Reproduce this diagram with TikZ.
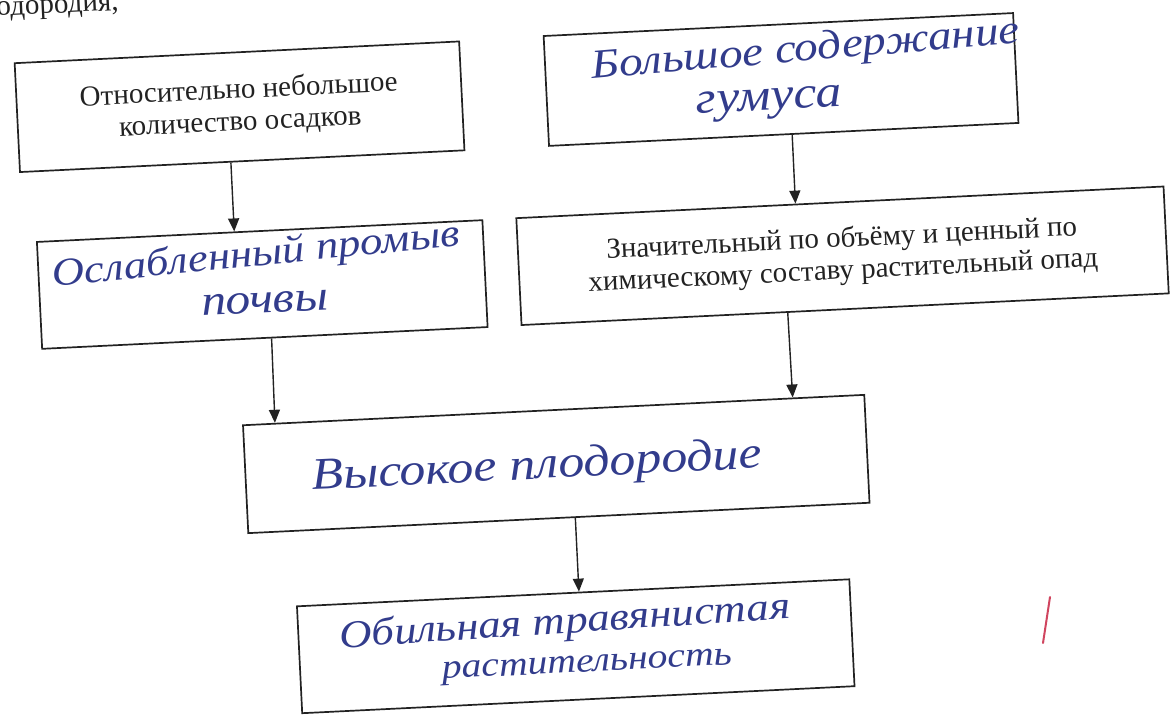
\documentclass[tikz,border=0pt]{standalone}
\usepackage{fontspec}
\setmainfont{Liberation Serif}
\newfontfamily\handfont{Liberation Serif}[FakeStretch=1.15]
\usetikzlibrary{arrows.meta,calc}
\definecolor{ink}{HTML}{323C8C}
\definecolor{pen}{HTML}{222222}
\definecolor{redpen}{HTML}{D0455F}
\newcommand\printsize{\fontsize{29}{32}\selectfont}
\newcommand\hs[1]{\fontsize{#1}{#1}\selectfont\handfont\itshape}
\begin{document}
\begin{tikzpicture}[x=1pt,y=1pt,
  box/.style={draw=pen,line width=1.7pt,inner sep=0pt,transform shape,align=center,font=\printsize,text=pen},
  hand/.style={text=ink,inner sep=0pt,transform shape},
  arr/.style={draw=pen,line width=1.4pt,-{Triangle[length=13pt,width=11pt]}}]
\clip (0,0) rectangle (1173,-719);
\fill[white] (0,0) rectangle (1173,-719);
\node[anchor=base east,rotate=2.8,font=\printsize,text=pen,inner sep=0pt] (frag) at (119,-10) {плодородия,};
\begin{scope}[rotate around={2.8:(586.5,-359.5)}]
  \node[box,minimum width=445pt,minimum height=109pt] (b1) at (252.3,-90.1) {Относительно небольшое\\количество осадков};
  \node[box,minimum width=470pt,minimum height=110pt] (b2) at (794.5,-89.3) {};
  \node[box,minimum width=446pt,minimum height=107pt] (b3) at (266.3,-268.75) {};
  \node[box,minimum width=648pt,minimum height=107pt] (b4) at (847.3,-268.4) {Значительный по объёму и ценный по\\химическому составу растительный опад};
  \node[box,minimum width=622pt,minimum height=108pt] (b5) at (551.2,-462.4) {};
  \node[box,minimum width=553pt,minimum height=107pt] (b6) at (561.75,-645.4) {};
  \node[hand,font={\hs{41}},rotate=2] (h2a) at (820.5,-62) {Большое содержание};
  \node[hand,font={\hs{45}}] (h2b) at (781.5,-113) {гумуса};
  \node[hand,font={\hs{39}},rotate=3] (h3a) at (261.5,-240) {Ослабленный промыв};
  \node[hand,font={\hs{43}}] (h3b) at (268.2,-287) {почвы};
  \node[hand,font={\hs{45}}] (h5) at (531.8,-465.4) {Высокое плодородие};
  \node[hand,font={\hs{39}},rotate=1] (h6a) at (552.1,-622) {Обильная травянистая};
  \node[hand,font={\hs{34.5}}] (h6b) at (572,-667) {растительность};
  \draw[arr] ($(b1.south west)!0.4746!(b1.south east)$) -- ($(b3.north west)!0.4433!(b3.north east)$);
  \draw[arr] ($(b2.south west)!0.518!(b2.south east)$) -- ($(b4.north west)!0.4316!(b4.north east)$);
  \draw[arr] ($(b3.south west)!0.515!(b3.south east)$) -- ($(b5.north west)!0.0527!(b5.north east)$);
  \draw[arr] ($(b4.south west)!0.4116!(b4.south east)$) -- ($(b5.north west)!0.8839!(b5.north east)$);
  \draw[arr] ($(b5.south west)!0.5264!(b5.south east)$) -- ($(b6.north west)!0.5106!(b6.north east)$);
\end{scope}
\draw[redpen,line width=2pt,line cap=round] (1050,-597) -- (1043,-643);
\end{tikzpicture}
\end{document}
